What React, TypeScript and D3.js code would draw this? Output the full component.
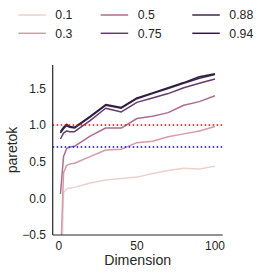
import React from 'react';
import * as d3 from 'd3';

// dimensions sampled
const dims = [1, 3, 5, 7, 10, 20, 30, 40, 50, 60, 70, 80, 90, 100];
const levels = [0.1, 0.3, 0.5, 0.75, 0.88, 0.94];

const k01 = [-1.5, 0.08, 0.13, 0.14, 0.15, 0.21, 0.25, 0.27, 0.29, 0.34, 0.38, 0.41, 0.40, 0.44];
const k03 = [-0.9, 0.35, 0.45, 0.47, 0.48, 0.57, 0.66, 0.67, 0.76, 0.78, 0.84, 0.88, 0.92, 0.98];
const k05 = [0.06, 0.57, 0.68, 0.70, 0.71, 0.85, 0.96, 0.96, 1.09, 1.12, 1.17, 1.27, 1.32, 1.40];
const k075 = [0.81, 0.89, 0.92, 0.91, 0.91, 1.06, 1.23, 1.18, 1.31, 1.37, 1.43, 1.51, 1.57, 1.63];
const k088 = [0.89, 0.95, 0.99, 0.97, 0.96, 1.11, 1.27, 1.23, 1.36, 1.43, 1.50, 1.57, 1.64, 1.69];
const k094 = [0.91, 0.97, 1.01, 0.98, 0.97, 1.12, 1.28, 1.24, 1.37, 1.44, 1.51, 1.58, 1.66, 1.70];
const series = [k01, k03, k05, k075, k088, k094];

const xTicks = [0, 50, 100];
const yTicks = [-0.5, 0.0, 0.5, 1.0, 1.5];

// seaborn's default cubehelix palette (light -> dark)
function cubehelix(t: number) {
  const x = 0.85 + (0.15 - 0.85) * t;
  const a = 0.8 * x * (1 - x) / 2;
  const phi = 2 * Math.PI * (0 / 3 + 0.4 * x);
  const c = Math.cos(phi), s = Math.sin(phi);
  const r = x + a * (-0.14861 * c + 1.78277 * s);
  const g = x + a * (-0.29227 * c - 0.90649 * s);
  const b = x + a * (1.97294 * c);
  const f = (v: number) => Math.round(Math.max(0, Math.min(1, v)) * 255);
  return d3.rgb(f(r), f(g), f(b)).formatHex();
}

const App = () => {
  const W = 266, H = 273;
  const left = 52.7, right = 222.7, top = 65, bottom = 235;

  const x = d3.scaleLinear().domain([-3.95, 104.95]).range([left, right]);
  const y = d3.scaleLinear().domain([-0.5, 1.82]).range([bottom, top]);
  const hue = d3.scaleLinear().domain([0.1, 0.94]).range([0, 1]);

  const line = d3.line<number>()
    .x((d, i) => x(dims[i]))
    .y(d => y(d));

  const txt = '#262626';
  const font = '"Liberation Sans", Arial, sans-serif';

  // legend layout: 3 columns, 2 rows, filled column-wise
  const legCols = [18.3, 100.7, 192.3];
  const legRows = [15, 33.3];

  return (
    <svg width={W} height={H} style={{ position: 'absolute', left: 0, top: 0 }} fontFamily={font}>
      <rect width={W} height={H} fill="white" />
      <defs>
        <clipPath id="plotArea">
          <rect x={left} y={top} width={right - left} height={bottom - top} />
        </clipPath>
      </defs>

      {/* legend */}
      {levels.map((lv, i) => {
        const cx = legCols[Math.floor(i / 2)];
        const cy = legRows[i % 2];
        return (
          <g key={lv}>
            <line x1={cx} x2={cx + 27.5} y1={cy} y2={cy} stroke={cubehelix(hue(lv))} strokeWidth={1.5} />
            <text x={cx + 37} y={cy + 4.3} fontSize={12.3} fill={txt}>{String(lv)}</text>
          </g>
        );
      })}

      <g clipPath="url(#plotArea)">
        {series.map((s, i) => (
          <path key={i} d={line(s) || ''} fill="none" stroke={cubehelix(hue(levels[i]))}
            strokeWidth={1.5} strokeLinejoin="round" />
        ))}
        <line x1={left} x2={right} y1={y(1.0)} y2={y(1.0)} stroke="red" strokeWidth={1.5} strokeDasharray="1.5,2.5" />
        <line x1={left} x2={right} y1={y(0.7)} y2={y(0.7)} stroke="blue" strokeWidth={1.5} strokeDasharray="1.5,2.5" />
      </g>

      {/* spines */}
      <line x1={left} x2={left} y1={top} y2={bottom} stroke={txt} strokeWidth={1.2} />
      <line x1={left} x2={right} y1={bottom} y2={bottom} stroke={txt} strokeWidth={1.2} />

      {xTicks.map(t => (
        <text key={t} x={x(t)} y={bottom + 15} textAnchor="middle" fontSize={12} fill={txt}>{t}</text>
      ))}
      {yTicks.map(t => (
        <text key={t} x={left - 6.7} y={y(t) + 4.3} textAnchor="end" fontSize={12} fill={txt}>
          {d3.format('.1f')(t).replace('-', '\u2212')}
        </text>
      ))}

      <text x={(left + right) / 2} y={265} textAnchor="middle" fontSize={14.2} fill={txt}>Dimension</text>
      <text transform={`translate(17,${(top + bottom) / 2}) rotate(-90)`} textAnchor="middle" fontSize={14} fill={txt}>paretok</text>
    </svg>
  );
};

export default App;
